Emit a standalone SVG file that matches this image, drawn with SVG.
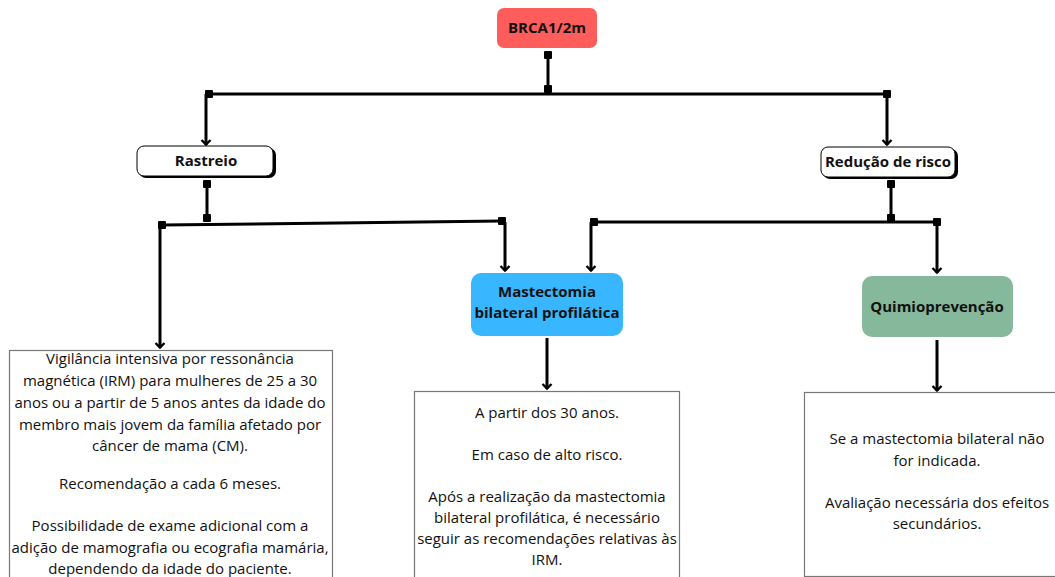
<svg xmlns="http://www.w3.org/2000/svg" width="1055" height="577" viewBox="0 0 1055 577">
<defs>
<marker id="sq" viewBox="0 0 10 10" refX="5" refY="5" markerWidth="10" markerHeight="10" markerUnits="userSpaceOnUse"><rect x="1" y="1" width="8" height="8" rx="1" fill="#000"/></marker>
<marker id="arr" viewBox="0 0 12 12" refX="10.5" refY="6" markerWidth="12" markerHeight="12" markerUnits="userSpaceOnUse" orient="auto"><path d="M5.5,1.5 L10,6 L5.5,10.5" fill="none" stroke="#000" stroke-width="2.4"/></marker>
</defs>
<style>
.c{fill:none;stroke:#000;stroke-width:3}
.lbl{font-family:"Open Sans","Liberation Sans",sans-serif;font-weight:bold;font-size:15px;fill:#111;text-anchor:middle}
.txt{font-family:"Open Sans","Liberation Sans",sans-serif;font-size:15px;fill:#111;text-anchor:middle}
.tb{fill:#fff;stroke:#777;stroke-width:1.2}
</style>
<rect width="1055" height="577" fill="#fff"/>
<g id="connectors">
<path class="c" d="M548,55 L548,89" marker-start="url(#sq)" marker-end="url(#sq)"/>
<path class="c" d="M209,94 L887,94"/>
<path class="c" d="M206,94 L206,145" marker-end="url(#arr)"/>
<rect x="205" y="90" width="8" height="8" rx="1"/>
<path class="c" d="M887,94 L887,145" marker-start="url(#sq)" marker-end="url(#arr)"/>
<path class="c" d="M207,184 L207,218" marker-start="url(#sq)" marker-end="url(#sq)"/>
<path class="c" d="M162,225 L502,221"/>
<path class="c" d="M160,225 L160,348" marker-end="url(#arr)"/>
<rect x="158" y="221" width="8" height="8" rx="1"/>
<path class="c" d="M505,222 L505,271" marker-end="url(#arr)"/>
<rect x="498" y="217" width="8" height="8" rx="1"/>
<path class="c" d="M891,184 L891,218" marker-start="url(#sq)" marker-end="url(#sq)"/>
<path class="c" d="M594,222 L937,222"/>
<path class="c" d="M591,222 L591,271" marker-end="url(#arr)"/>
<rect x="590" y="218" width="8" height="8" rx="1"/>
<path class="c" d="M937,222 L937,273" marker-start="url(#sq)" marker-end="url(#arr)"/>
<path class="c" d="M547,338 L547,389" marker-end="url(#arr)"/>
<path class="c" d="M937,340 L937,391" marker-end="url(#arr)"/>
</g>
<g id="brca">
<rect x="497" y="8" width="100" height="40" rx="7" fill="#ff5c5c"/>
<text class="lbl" x="547" y="33">BRCA1/2m</text>
</g>
<g id="rastreio">
<rect x="139" y="148" width="137" height="30" rx="7" fill="#000"/>
<rect x="137" y="146" width="136" height="30" rx="7" fill="#fff" stroke="#000" stroke-width="1"/>
<text class="lbl" x="206" y="166">Rastreio</text>
</g>
<g id="reducao">
<rect x="823" y="149" width="135" height="30" rx="7" fill="#000"/>
<rect x="821" y="147" width="134" height="30" rx="7" fill="#fff" stroke="#000" stroke-width="1"/>
<text class="lbl" x="888" y="167">Redução de risco</text>
</g>
<g id="mastectomia">
<rect x="471" y="273" width="152" height="63" rx="10" fill="#38b6ff"/>
<text class="lbl" x="547" y="297">Mastectomia</text>
<text class="lbl" x="547" y="318">bilateral profilática</text>
</g>
<g id="quimio">
<rect x="862" y="276" width="151" height="61" rx="10" fill="#86b89b"/>
<text class="lbl" x="937" y="312">Quimioprevenção</text>
</g>
<g id="vigilancia">
<rect class="tb" x="9.5" y="350.5" width="323" height="240"/>
<text class="txt" x="170" y="364">Vigilância intensiva por ressonância</text>
<text class="txt" x="170" y="386">magnética (IRM) para mulheres de 25 a 30</text>
<text class="txt" x="170" y="408">anos ou a partir de 5 anos antes da idade do</text>
<text class="txt" x="170" y="430">membro mais jovem da família afetado por</text>
<text class="txt" x="170" y="451">câncer de mama (CM).</text>
<text class="txt" x="170" y="489">Recomendação a cada 6 meses.</text>
<text class="txt" x="170" y="531">Possibilidade de exame adicional com a</text>
<text class="txt" x="170" y="553">adição de mamografia ou ecografia mamária,</text>
<text class="txt" x="170" y="574">dependendo da idade do paciente.</text>
</g>
<g id="texto-mastectomia">
<rect class="tb" x="414.5" y="391.5" width="265" height="200"/>
<text class="txt" x="547" y="418">A partir dos 30 anos.</text>
<text class="txt" x="547" y="460">Em caso de alto risco.</text>
<text class="txt" x="547" y="502">Após a realização da mastectomia</text>
<text class="txt" x="547" y="523">bilateral profilática, é necessário</text>
<text class="txt" x="547" y="544">seguir as recomendações relativas às</text>
<text class="txt" x="547" y="565">IRM.</text>
</g>
<g id="texto-quimio">
<rect class="tb" x="804.5" y="392.5" width="260" height="184"/>
<text class="txt" x="937" y="444">Se a mastectomia bilateral não</text>
<text class="txt" x="937" y="466">for indicada.</text>
<text class="txt" x="937" y="508">Avaliação necessária dos efeitos</text>
<text class="txt" x="937" y="529">secundários.</text>
</g>
</svg>
